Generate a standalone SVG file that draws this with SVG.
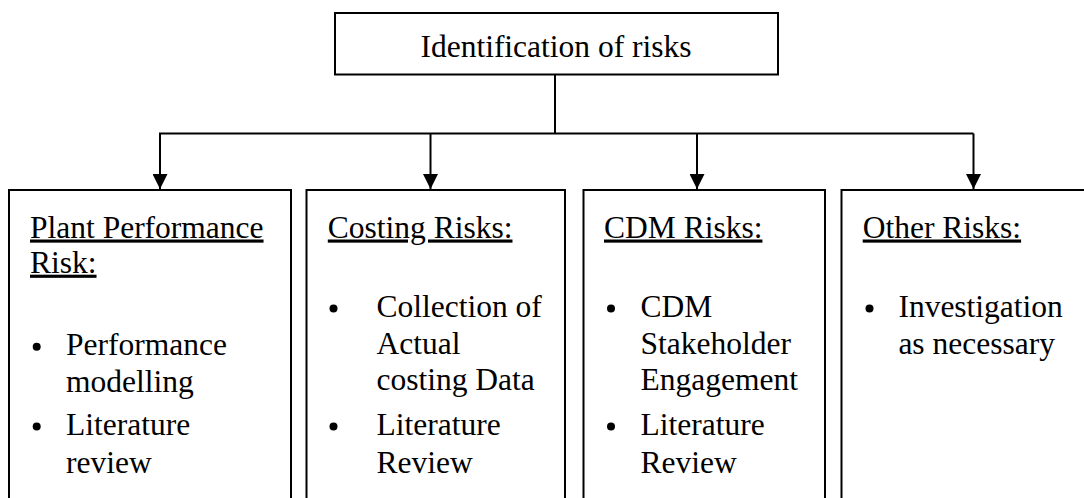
<svg xmlns="http://www.w3.org/2000/svg" width="1084" height="498" viewBox="0 0 1084 498">
  <style>
    .box { fill: #ffffff; stroke: #000000; stroke-width: 2; }
    .wire { fill: none; stroke: #000000; stroke-width: 2; }
    .t { font-size: 31.5px; fill: #000000; }
    .head { text-decoration: underline; }
    .dot { fill: #000000; }
  </style>
  <defs>
    <marker id="arrow" viewBox="0 0 15 15" refX="15" refY="7.5" markerWidth="15" markerHeight="15" markerUnits="userSpaceOnUse" orient="auto">
      <path d="M0,0 L15,7.5 L0,15 Z" fill="#000000"/>
    </marker>
  </defs>
  <rect width="1084" height="498" fill="#ffffff"/>

  <!-- connectors -->
  <g id="connectors">
    <line class="wire" x1="555" y1="74.5" x2="555" y2="133.5"/>
    <line class="wire" x1="159" y1="133.5" x2="973.5" y2="133.5"/>
    <line class="wire" x1="160" y1="133.5" x2="160" y2="189" marker-end="url(#arrow)"/>
    <line class="wire" x1="430.5" y1="133.5" x2="430.5" y2="189" marker-end="url(#arrow)"/>
    <line class="wire" x1="697" y1="133.5" x2="697" y2="189" marker-end="url(#arrow)"/>
    <line class="wire" x1="973.5" y1="133.5" x2="973.5" y2="189" marker-end="url(#arrow)"/>
  </g>

  <g font-family="'Liberation Serif', 'Times New Roman', Times, serif">
    <!-- root -->
    <g id="identification">
      <rect class="box" x="335" y="13" width="443" height="61.5"/>
      <text class="t" x="556" y="57" text-anchor="middle">Identification of risks</text>
    </g>

    <!-- plant performance -->
    <g id="plant-performance">
      <path class="wire" d="M9,505 V190 H291 V505"/>
      <text class="t head" x="30" y="237.5">Plant Performance</text>
      <text class="t head" x="30" y="272.7">Risk:</text>
      <circle class="dot" cx="36.7" cy="346.7" r="4"/>
      <text class="t" x="66" y="355">Performance</text>
      <text class="t" x="66" y="391.5">modelling</text>
      <circle class="dot" cx="36.7" cy="426.5" r="4"/>
      <text class="t" x="66" y="435">Literature</text>
      <text class="t" x="66" y="473">review</text>
    </g>

    <!-- costing -->
    <g id="costing">
      <path class="wire" d="M306.5,505 V190 H565 V505"/>
      <text class="t head" x="327.8" y="237.5">Costing Risks:</text>
      <circle class="dot" cx="333.5" cy="308.5" r="4"/>
      <text class="t" x="376.5" y="317">Collection of</text>
      <text class="t" x="376.5" y="353.5">Actual</text>
      <text class="t" x="376.5" y="390">costing Data</text>
      <circle class="dot" cx="333.5" cy="426.5" r="4"/>
      <text class="t" x="376.5" y="435">Literature</text>
      <text class="t" x="376.5" y="473">Review</text>
    </g>

    <!-- cdm -->
    <g id="cdm">
      <path class="wire" d="M583.5,505 V190 H825 V505"/>
      <text class="t head" x="604" y="237.5">CDM Risks:</text>
      <circle class="dot" cx="611" cy="308.5" r="4"/>
      <text class="t" x="640.5" y="317">CDM</text>
      <text class="t" x="640.5" y="353.5">Stakeholder</text>
      <text class="t" x="640.5" y="390">Engagement</text>
      <circle class="dot" cx="611" cy="426.5" r="4"/>
      <text class="t" x="640.5" y="435">Literature</text>
      <text class="t" x="640.5" y="473">Review</text>
    </g>

    <!-- other -->
    <g id="other">
      <path class="wire" d="M841.5,505 V190 H1090"/>
      <text class="t head" x="862.7" y="237.5">Other Risks:</text>
      <circle class="dot" cx="869.5" cy="308.5" r="4"/>
      <text class="t" x="898.4" y="317">Investigation</text>
      <text class="t" x="898.4" y="353.5">as necessary</text>
    </g>
  </g>
</svg>
